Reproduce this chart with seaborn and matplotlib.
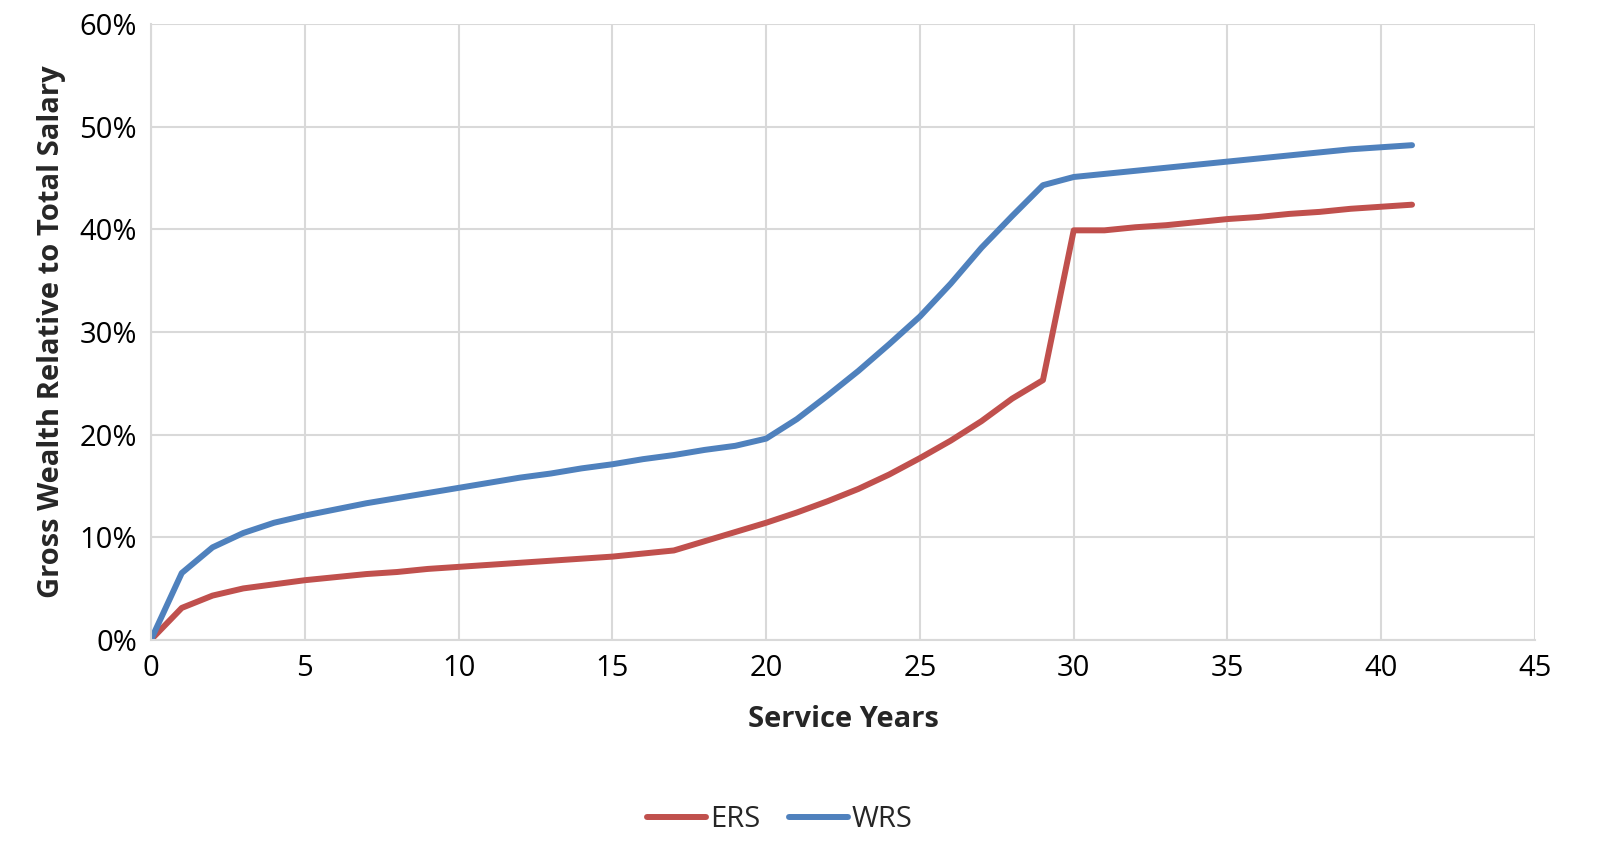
import numpy as np
import pandas as pd
import seaborn as sns
import matplotlib.pyplot as plt
from matplotlib.ticker import PercentFormatter

# service years 0..41 (share of total salary)
years = list(range(0, 42))
ers = [0.0, 3.1, 4.3, 5.0, 5.4, 5.8, 6.1, 6.4, 6.6, 6.9,
       7.1, 7.3, 7.5, 7.7, 7.9, 8.1, 8.4, 8.7, 9.6, 10.5,
       11.4, 12.4, 13.5, 14.7, 16.1, 17.7, 19.4, 21.3, 23.5, 25.3,
       39.9, 39.9, 40.2, 40.4, 40.7, 41.0, 41.2, 41.5, 41.7, 42.0,
       42.2, 42.4]
wrs = [0.0, 6.5, 9.0, 10.4, 11.4, 12.1, 12.7, 13.3, 13.8, 14.3,
       14.8, 15.3, 15.8, 16.2, 16.7, 17.1, 17.6, 18.0, 18.5, 18.9,
       19.6, 21.5, 23.8, 26.2, 28.8, 31.5, 34.7, 38.2, 41.3, 44.3,
       45.1, 45.4, 45.7, 46.0, 46.3, 46.6, 46.9, 47.2, 47.5, 47.8,
       48.0, 48.2]
series_names = ["ERS", "WRS"]
colors = {"ERS": "#C0504D", "WRS": "#4F81BD"}

df = pd.DataFrame({"Service Years": years * 2,
                   "value": ers + wrs,
                   "series": ["ERS"] * len(years) + ["WRS"] * len(years)})

sns.set_theme(style="white")
plt.rcParams["font.family"] = ["Open Sans", "DejaVu Sans"]

fig = plt.figure(figsize=(16.15, 8.61), dpi=100)
ax = fig.add_axes([0.0935, 0.257, 0.857, 0.715])

sns.lineplot(data=df, x="Service Years", y="value", hue="series",
             hue_order=series_names, palette=colors, linewidth=4.3,
             ax=ax, legend=False)
for ln in ax.lines:
    ln.set_solid_capstyle("round")
    ln.set_solid_joinstyle("round")

ax.set_xlim(0, 45)
ax.set_ylim(0, 60)
ax.set_xticks(range(0, 46, 5))
ax.set_yticks(range(0, 61, 10))
ax.yaxis.set_major_formatter(PercentFormatter(decimals=0))
ax.grid(True, color="#d9d9d9", linewidth=1.5)
ax.set_axisbelow(True)
for s in ["top", "right"]:
    ax.spines[s].set_visible(False)
for s in ["left", "bottom"]:
    ax.spines[s].set_color("#d9d9d9")
    ax.spines[s].set_linewidth(1.5)
ax.tick_params(axis="both", labelsize=21, length=0, pad=10, colors="black")

ax.set_xlabel("Service Years", fontsize=21, fontweight="bold", labelpad=16)
ax.set_ylabel("Gross Wealth Relative to Total Salary", fontsize=21,
              fontweight="bold", labelpad=10)

handles = [plt.Line2D([], [], color=colors[n], linewidth=4.3,
                      solid_capstyle="round") for n in series_names]
fig.legend(handles, series_names, loc="center", bbox_to_anchor=(0.483, 0.048),
           ncol=2, frameon=False, fontsize=21, handlelength=2.0,
           handletextpad=0.15, columnspacing=1.0)

fig.savefig("out.png", dpi=100)
